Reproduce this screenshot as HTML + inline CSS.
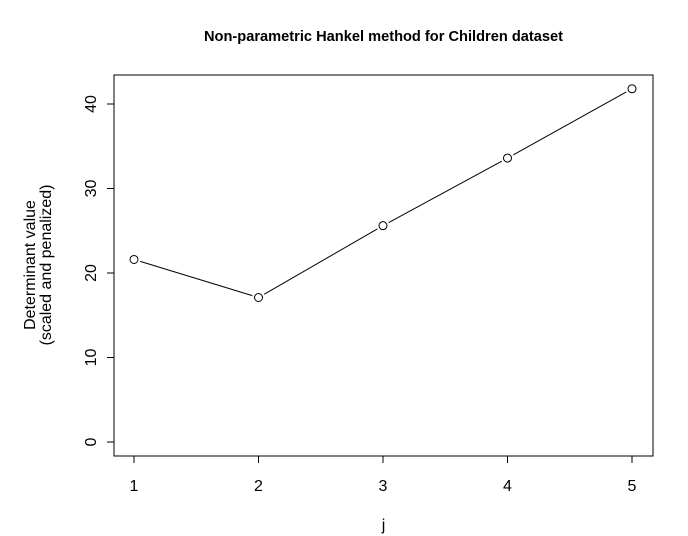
<!DOCTYPE html>
<html><head><meta charset="utf-8"><style>
html,body{margin:0;padding:0;background:#fff;}
svg{display:block;font-family:"Liberation Sans",sans-serif;}
</style></head><body>
<svg id="chart" width="688" height="536" viewBox="0 0 688 536">
<rect width="688" height="536" fill="#fff"/>
<text x="383.5" y="41" text-anchor="middle" font-size="14.5" font-weight="bold" textLength="359" lengthAdjust="spacingAndGlyphs">Non-parametric Hankel method for Children dataset</text>
<rect x="114" y="75" width="539" height="381" fill="none" stroke="#000" stroke-width="1"/>
<g id="xaxis"></g>
<g id="yaxis"></g>
<text x="383.5" y="530" text-anchor="middle" font-size="16">j</text>
<g transform="translate(0,265) rotate(-90)">
<text x="0" y="35" text-anchor="middle" font-size="16">Determinant value</text>
<text x="0" y="51" text-anchor="middle" font-size="16">(scaled and penalized)</text>
</g>
<g id="series"></g>
</svg>
<script>
const categories = [1, 2, 3, 4, 5];
const values = [21.6, 17.1, 25.6, 33.6, 41.8];
const yTicks = [0, 10, 20, 30, 40];
const NS = "http://www.w3.org/2000/svg";
function xs(v){ return 134 + (v - 1) * 124.5; }
function ys(v){ return 442 - v * 8.45; }
function mk(tag, attrs, parent){ const e = document.createElementNS(NS, tag); for (const k in attrs) e.setAttribute(k, attrs[k]); parent.appendChild(e); return e; }
const xa = document.getElementById('xaxis');
mk('line', {x1: xs(categories[0]), x2: xs(categories[categories.length-1]), y1: 456, y2: 456, stroke: '#000'}, xa);
categories.forEach(c => {
  const t = mk('line', {x1: xs(c), x2: xs(c), y1: 456, y2: 463, stroke: '#000'}, xa);
  
  
  const l = mk('text', {x: xs(c), y: 491, 'text-anchor': 'middle', 'font-size': 16}, xa);
  l.textContent = c;
  
  
});
const ya = document.getElementById('yaxis');
mk('line', {x1: 114, x2: 114, y1: ys(yTicks[0]), y2: ys(yTicks[yTicks.length-1]), stroke: '#000'}, ya);
yTicks.forEach(v => {
  const t = mk('line', {x1: 107, x2: 114, y1: ys(v), y2: ys(v), stroke: '#000'}, ya);
  
  
  const l = mk('text', {x: 0, y: 0, 'text-anchor': 'middle', 'font-size': 16, transform: 'translate(96,' + ys(v) + ') rotate(-90)'}, ya);
  l.textContent = v;
  
  
});
const s = document.getElementById('series');
for (let i = 0; i < values.length - 1; i++) {
  const x1 = xs(categories[i]), y1 = ys(values[i]), x2 = xs(categories[i+1]), y2 = ys(values[i+1]);
  const d = Math.hypot(x2 - x1, y2 - y1), ux = (x2 - x1) / d, uy = (y2 - y1) / d, g = 6.5;
  const ln = mk('line', {x1: x1 + ux*g, y1: y1 + uy*g, x2: x2 - ux*g, y2: y2 - uy*g, stroke: '#000'}, s);
  
  
}
values.forEach((v, i) => {
  const c = mk('circle', {cx: xs(categories[i]), cy: ys(v), r: 4, fill: 'none', stroke: '#000'}, s);
  
  
});
</script>
</body></html>
